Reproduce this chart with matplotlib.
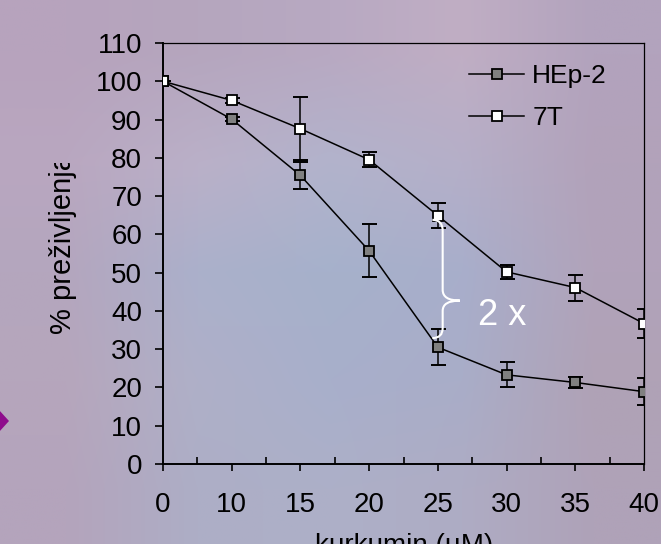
"""
Preživetje celic HEp-2 in 7T pri različnih koncentracijah kurkumina.
Nariše graf in ga shrani v out.png.
"""

import matplotlib.pyplot as plt
import matplotlib.path as mpath
import matplotlib.patches as mpatches
from matplotlib.transforms import Bbox, TransformedBbox, Affine2D
from matplotlib.colors import to_rgb
import numpy as np

# podatki
koncentracije = ["0", "10", "15", "20", "25", "30", "35", "40"]
hep2 = [100, 90.1, 75.4, 55.7, 30.5, 23.3, 21.3, 18.9]
hep2_err = [0, 0.6, 3.6, 6.9, 4.7, 3.3, 1.4, 3.6]
t7 = [100, 95.0, 87.6, 79.5, 64.9, 50.2, 46.1, 36.7]
t7_err = [0, 0.6, 8.2, 2.0, 3.2, 1.8, 3.4, 3.9]

# barve ozadja (mozaik), vrstice od zgoraj navzdol
ozadje = [
    ["#B7A3BD", "#B5A6BE", "#B8A9C2", "#C0AEC4", "#B2A3BD"],
    ["#B9A7C0", "#BAB0C8", "#B2B3CC", "#B5AFC8", "#B2A2BA"],
    ["#B4A6BE", "#ABB0CB", "#A6B1CB", "#A8AECB", "#B1A3BA"],
    ["#B6A6BC", "#AFB0C8", "#A8AFCB", "#A9ADC8", "#B0A2B6"],
    ["#B4A4BC", "#ADAEC6", "#ADB0C8", "#AEACC4", "#AFA2B8"],
]

plt.rcParams['font.family'] = ['Liberation Sans', 'DejaVu Sans']

W, H = 661, 544
fig = plt.figure(figsize=(W / 100, H / 100), dpi=100)

# ozadje
bg = fig.add_axes([0, 0, 1, 1], zorder=-10)
img = np.array([[to_rgb(c) for c in row] for row in ozadje])
bg.imshow(img, aspect='auto', interpolation='bilinear', extent=(0, 1, 0, 1))
bg.set_axis_off()

# vijolični romb na levem robu (v pikslih slike)
romb = mpatches.Polygon([(-11, 123), (-1, 134), (9, 123), (-1, 112)],
                        closed=True, facecolor='#8E0C8C', edgecolor='none')
romb.set_transform(Affine2D().scale(1 / W, 1 / H) + fig.transFigure)
fig.patches.append(romb)

ax = fig.add_axes([163 / W, (H - 464) / H, 481 / W, 421 / H])
ax.set_facecolor('none')

x = np.arange(len(koncentracije))

ax.errorbar(x, hep2, yerr=hep2_err, fmt='none', ecolor='black',
            elinewidth=1.1, capsize=5.4, capthick=1.4, zorder=2)
ax.errorbar(x, t7, yerr=t7_err, fmt='none', ecolor='black',
            elinewidth=1.1, capsize=5.4, capthick=1.4, zorder=2)
ax.plot(x, hep2, '-s', color='black', lw=1.1, ms=7.6, mew=1.3,
        mfc='#808080', mec='black', label='HEp-2', zorder=3)
ax.plot(x, t7, '-s', color='black', lw=1.1, ms=7.6, mew=1.3,
        mfc='white', mec='black', label='7T', zorder=4)

ax.set_xlim(0, len(koncentracije) - 1)
ax.set_ylim(0, 110)
ax.set_yticks(range(0, 111, 10))
ax.set_xticks(x)
ax.set_xticklabels(koncentracije)
ax.set_xticks(x[:-1] + 0.5, minor=True)

ax.tick_params(axis='y', direction='out', length=6, width=1.2,
               labelsize=20, pad=9)
ax.tick_params(axis='x', which='major', direction='out', length=5,
               width=1.2, labelsize=20, pad=15)
ax.tick_params(axis='x', which='minor', direction='in', length=5, width=1.2)

for s in ['left', 'bottom']:
    ax.spines[s].set_linewidth(1.4)
for s in ['top', 'right']:
    ax.spines[s].set_linewidth(0.9)

# zaviti oklepaj "2 x"
xo, xs, xt = 3.92, 4.07, 4.32
verts = [(xo, 63.8), (xs, 63.8), (xs, 61.0),
         (xs, 45.5),
         (xs, 42.7), (xt, 42.7),
         (xs, 42.7), (xs, 40.0),
         (xs, 35.5),
         (xs, 32.9), (xo, 32.9)]
codes = [mpath.Path.MOVETO, mpath.Path.CURVE3, mpath.Path.CURVE3,
         mpath.Path.LINETO,
         mpath.Path.CURVE3, mpath.Path.CURVE3,
         mpath.Path.CURVE3, mpath.Path.CURVE3,
         mpath.Path.LINETO,
         mpath.Path.CURVE3, mpath.Path.CURVE3]
oklepaj = mpatches.PathPatch(mpath.Path(verts, codes), facecolor='none',
                             edgecolor='white', lw=1.5, zorder=5)
ax.add_patch(oklepaj)
ax.text(4.59, 38.9, '2 x', color='white', fontsize=26, ha='left',
        va='center', zorder=6)

leg = ax.legend(loc='upper left', bbox_to_anchor=(0.636, 0.949),
                frameon=False, fontsize=19, handlelength=2.1,
                handletextpad=0.3, labelspacing=0.68, borderpad=0,
                borderaxespad=0, numpoints=1)

# oznaka osi y, odrezana na vrhu
ylab = fig.text(63 / W, (H - 334) / H, '% preživljenja', rotation=90,
                fontsize=21, ha='center', va='bottom')
ylab.set_clip_box(TransformedBbox(Bbox.from_extents(0, 0, 1, (H - 163) / H),
                                  fig.transFigure))
ylab.set_clip_on(True)

# oznaka osi x, kot v izvirniku odrezana na dnu
fig.text(404 / W, (H - 533) / H, 'kurkumin (µM)', fontsize=20,
         ha='center', va='top')

fig.savefig('out.png', dpi=100)
